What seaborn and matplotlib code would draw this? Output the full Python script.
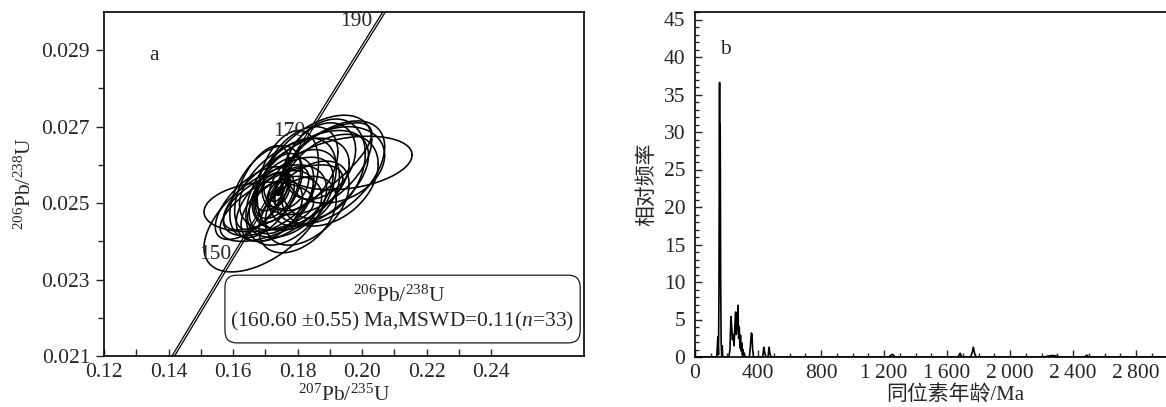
import numpy as np
import pandas as pd
import matplotlib
matplotlib.use("Agg")
import matplotlib.pyplot as plt
from matplotlib.patches import FancyBboxPatch
from matplotlib.ticker import MultipleLocator, FixedLocator
import seaborn as sns

# ---- panel a: concordia (ages in Ma and ratios)
concordia_age = [130, 150, 170, 190, 200]
concordia_x = [0.13659, 0.15920, 0.18226, 0.20577, 0.21771]   # 207Pb/235U
concordia_y = [0.020371, 0.023542, 0.026722, 0.029912, 0.031511]  # 206Pb/238U
concordia_labels = ["150", "170", "190"]
label_offsets = [(0.7, 3.0), (0.5, 4.0), (-6.0, -4.5)]  # points
envelope_dx = 0.0008

# error ellipses: centre x, centre y, half-width x, half-width y, correlation
ell_x = [0.1700, 0.1860, 0.1960, 0.1800, 0.1680, 0.1880, 0.1900, 0.1780, 0.1750,
         0.1730, 0.1740, 0.1735, 0.1760, 0.1700, 0.1820, 0.1800, 0.1830, 0.1690,
         0.1770, 0.1870, 0.1710, 0.1790, 0.1720, 0.1920, 0.1740, 0.1810, 0.1660,
         0.1760, 0.1840, 0.1750, 0.1780, 0.1720, 0.1900]
ell_y = [0.02460, 0.02600, 0.02605, 0.02570, 0.02490, 0.02590, 0.02560, 0.02530, 0.02520,
         0.02520, 0.02525, 0.02522, 0.02510, 0.02530, 0.02540, 0.02470, 0.02500, 0.02540,
         0.02560, 0.02610, 0.02500, 0.02550, 0.02480, 0.02600, 0.02540, 0.02590, 0.02500,
         0.02490, 0.02560, 0.02500, 0.02540, 0.02530, 0.02580]
ell_sx = [0.0190, 0.0170, 0.0195, 0.0230, 0.0170, 0.0130, 0.0150, 0.0140, 0.0100,
          0.0060, 0.0035, 0.0018, 0.0150, 0.0110, 0.0110, 0.0120, 0.0130, 0.0085,
          0.0095, 0.0110, 0.0140, 0.0170, 0.0095, 0.0150, 0.0075, 0.0115, 0.0115,
          0.0115, 0.0180, 0.0190, 0.0055, 0.0050, 0.0170]
ell_sy = [0.00140, 0.00130, 0.00070, 0.00140, 0.00065, 0.00130, 0.00120, 0.00140, 0.00100,
          0.00060, 0.00035, 0.00018, 0.00110, 0.00120, 0.00100, 0.00100, 0.00110, 0.00110,
          0.00130, 0.00100, 0.00085, 0.00120, 0.00080, 0.00100, 0.00090, 0.00110, 0.00095,
          0.00080, 0.00130, 0.00100, 0.00055, 0.00050, 0.00135]
ell_rho = [0.55, 0.50, 0.30, 0.80, 0.20, 0.30, 0.35, 0.45, 0.45,
           0.45, 0.45, 0.45, 0.55, 0.50, 0.30, 0.40, 0.45, 0.55,
           0.35, 0.30, 0.55, 0.45, 0.45, 0.25, 0.50, 0.40, 0.65,
           0.35, 0.50, 0.65, 0.45, 0.45, 0.50]
mean_point = (0.1745, 0.02530, 0.0012, 0.00010, 0.5)

# ---- panel b: relative probability vs age
age_ma = [0, 120, 138, 145, 149, 152, 156, 158, 159, 160, 163, 166, 170, 173, 176,
          215, 222, 228, 233, 238, 243, 248, 253, 258, 262, 265, 269, 273, 277, 281,
          285, 289, 293, 297, 301, 305, 309, 313, 318, 345, 352, 358, 362, 366, 372,
          430, 437, 441, 446, 452, 464, 470, 474, 480, 486,
          1230, 1245, 1255, 1265, 1275, 1670, 1683, 1690, 1698, 1750, 1760, 1767, 1775, 1785,
          2215, 2235, 2255, 2270, 2285, 2300, 2310, 2475, 2487, 2495, 2505, 3000]
rel_freq = [0, 0, 0, 2.7, 0.3, 8, 36.6, 20, 31, 31, 10, 2, 0, 1.5, 0,
            0, 1, 5.4, 4, 2.3, 3, 1.5, 4, 6.0, 3, 3.7, 5, 6.9, 2.5, 4,
            1.2, 2.9, 0.8, 1.9, 0.3, 1.0, 0.2, 0.5, 0, 0, 1.5, 3.2, 3.0, 1.0, 0,
            0, 1.3, 0.8, 0.3, 0, 0, 1.3, 0.7, 0.1, 0,
            0, 0.25, 0.35, 0.1, 0, 0, 0.5, 0.15, 0, 0, 0.6, 1.3, 0.5, 0,
            0, 0.1, 0.15, 0.2, 0.15, 0.1, 0, 0, 0.25, 0.1, 0, 0]
age_ticks = [0, 400, 800, 1200, 1600, 2000, 2400, 2800]
age_ticklabels = ["0", "400", "800", "1\u2009200", "1\u2009600", "2\u2009000", "2\u2009400", "2\u2009800"]

sns.set_style("ticks")
plt.rcParams["font.family"] = ["Liberation Serif", "Noto Sans CJK SC", "DejaVu Sans"]
plt.rcParams["mathtext.fontset"] = "custom"
plt.rcParams["mathtext.rm"] = "Liberation Serif"
plt.rcParams["mathtext.it"] = "Liberation Serif:italic"
plt.rcParams["axes.unicode_minus"] = False

W, H = 1166, 407
fig = plt.figure(figsize=(W / 100, H / 100), dpi=100)
ax1 = fig.add_axes([104 / W, (H - 356) / H, 480 / W, 344 / H])
ax2 = fig.add_axes([695 / W, (H - 357) / H, 472.5 / W, 345 / H])

fs = 15.5

# ----- panel a
t = np.linspace(0, 2 * np.pi, 200)
for mx, my, sx, sy, r in zip(ell_x, ell_y, ell_sx, ell_sy, ell_rho):
    ex = mx + sx * np.cos(t)
    ey = my + sy * (r * np.cos(t) + np.sqrt(1 - r ** 2) * np.sin(t))
    ax1.plot(ex, ey, color="black", lw=1.15)
mx, my, sx, sy, r = mean_point
ax1.fill(mx + sx * np.cos(t), my + sy * (r * np.cos(t) + np.sqrt(1 - r ** 2) * np.sin(t)),
         color="black")

conc = pd.DataFrame({"x": concordia_x, "y": concordia_y})
sns.lineplot(data=conc, x="x", y="y", sort=False, color="black", lw=0.9, ax=ax1)
ax1.plot(np.array(concordia_x) + envelope_dx, concordia_y, color="black", lw=0.9)
for lab, cx, cy, off in zip(concordia_labels, concordia_x[1:4], concordia_y[1:4], label_offsets):
    ax1.annotate(lab, (cx, cy), xytext=off, textcoords="offset points",
                 ha="right", va="center", fontsize=fs)

ax1.set_xlim(0.12, 0.2688)
ax1.set_ylim(0.021, 0.03)
ax1.xaxis.set_major_locator(FixedLocator([0.12, 0.14, 0.16, 0.18, 0.20, 0.22, 0.24]))
ax1.xaxis.set_minor_locator(FixedLocator([0.13, 0.15, 0.17, 0.19, 0.21, 0.23]))
ax1.yaxis.set_major_locator(FixedLocator([0.021, 0.023, 0.025, 0.027, 0.029]))
ax1.yaxis.set_minor_locator(FixedLocator([0.022, 0.024, 0.026, 0.028]))
ax1.set_xticklabels(["0.12", "0.14", "0.16", "0.18", "0.20", "0.22", "0.24"])
ax1.set_yticklabels(["0.021", "0.023", "0.025", "0.027", "0.029"])
ax1.tick_params(axis="x", which="both", direction="in", length=5, width=1, labelsize=fs, pad=5)
ax1.tick_params(axis="y", which="major", direction="out", length=6, width=1, labelsize=fs, pad=4)
ax1.tick_params(axis="y", which="minor", direction="out", length=4, width=1)
ax1.set_xlabel(r"$^{207}$Pb/$^{235}$U", fontsize=fs, labelpad=2)
ax1.set_ylabel(r"$^{206}$Pb/$^{238}$U", fontsize=fs, labelpad=4)
ax1.text(0.105, 0.875, "a", transform=ax1.transAxes, fontsize=fs, ha="center", va="center")

box = FancyBboxPatch((0.252, 0.038), 0.740, 0.197, transform=ax1.transAxes,
                     boxstyle="round,pad=0,rounding_size=0.025", mutation_aspect=1.4,
                     facecolor="white", edgecolor="black", lw=0.8, zorder=5)
ax1.add_patch(box)
ax1.text(0.615, 0.173, r"$^{206}$Pb/$^{238}$U", transform=ax1.transAxes,
         ha="center", va="center", fontsize=fs, zorder=6)
ax1.text(0.62, 0.100, r"(160.60 $\pm$0.55) Ma,MSWD=0.11($\it{n}$=33)", transform=ax1.transAxes,
         ha="center", va="center", fontsize=fs, zorder=6)

for s in ax1.spines.values():
    s.set_linewidth(1.2)
    s.set_color("black")

# ----- panel b
spec = pd.DataFrame({"age": age_ma, "freq": rel_freq})
sns.lineplot(data=spec, x="age", y="freq", sort=False, color="black", lw=1.2, ax=ax2)
ax2.set_xlim(0, 3000)
ax2.set_ylim(0, 46)
ax2.xaxis.set_major_locator(FixedLocator(age_ticks))
ax2.set_xticklabels(age_ticklabels)
ax2.xaxis.set_minor_locator(MultipleLocator(100))
ax2.yaxis.set_major_locator(MultipleLocator(5))
ax2.yaxis.set_minor_locator(MultipleLocator(1))
ax2.tick_params(which="major", direction="in", length=5, width=1, labelsize=fs)
ax2.tick_params(which="minor", direction="in", length=3, width=1)
ax2.tick_params(axis="x", pad=5)
ax2.tick_params(axis="y", pad=7)
ax2.set_xlabel("同位素年龄/Ma", fontsize=fs - 0.5)
ax2.xaxis.set_label_coords(0.55, -0.08)
ax2.set_ylabel("相对频率", fontsize=fs - 0.5)
ax2.yaxis.set_label_coords(-0.08, 0.5)
ax2.text(0.065, 0.89, "b", transform=ax2.transAxes, fontsize=fs, ha="center", va="center")
for s in ax2.spines.values():
    s.set_linewidth(1.2)
    s.set_color("black")

fig.savefig("out.png", dpi=100)
